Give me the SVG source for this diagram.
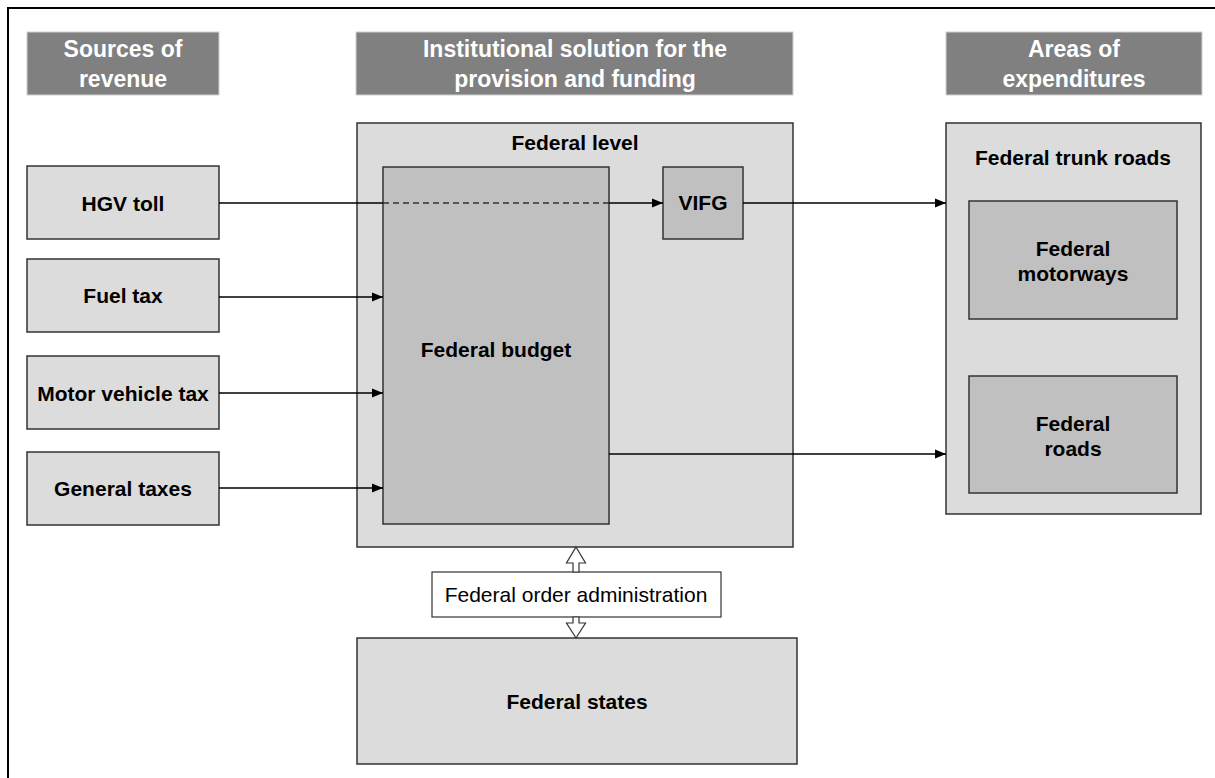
<svg xmlns="http://www.w3.org/2000/svg" width="1215" height="778" viewBox="0 0 1215 778">
<defs>
<style>
.hdr{fill:#808080;stroke:#d0d0d0;stroke-width:1}
.hdrt{font-family:"Liberation Sans",Arial,sans-serif;font-weight:bold;font-size:23px;fill:#ffffff;text-anchor:middle}
.lt{fill:#dcdcdc;stroke:#333333;stroke-width:1.5}
.md{fill:#c0c0c0;stroke:#333333;stroke-width:1.5}
.lbl{font-family:"Liberation Sans",Arial,sans-serif;font-weight:bold;font-size:21px;fill:#000000;text-anchor:middle}
.reg{font-family:"Liberation Sans",Arial,sans-serif;font-size:21px;fill:#000000;text-anchor:middle}
.con{stroke:#000000;stroke-width:1.5;fill:none}
.dash{stroke:#333333;stroke-width:1.5;fill:none;stroke-dasharray:6,4}
.harrow{fill:#ffffff;stroke:#333333;stroke-width:1.2}
</style>
<marker id="ah" markerWidth="12" markerHeight="10" refX="11" refY="5" orient="auto" markerUnits="userSpaceOnUse">
<path d="M0,0.5 L11,5 L0,9.5 Z" fill="#000000"/>
</marker>
</defs>
<rect width="1215" height="778" fill="#ffffff"/>
<path d="M8,778 V8 H1215" fill="none" stroke="#000000" stroke-width="2"/>

<g id="header-sources">
<rect class="hdr" x="27" y="32" width="192" height="63"/>
<text class="hdrt" x="123" y="57">Sources of</text>
<text class="hdrt" x="123" y="87">revenue</text>
</g>
<g id="header-institutional">
<rect class="hdr" x="356" y="32" width="437" height="63"/>
<text class="hdrt" x="575" y="57">Institutional solution for the</text>
<text class="hdrt" x="575" y="87">provision and funding</text>
</g>
<g id="header-areas">
<rect class="hdr" x="946" y="32" width="256" height="63"/>
<text class="hdrt" x="1074" y="57">Areas of</text>
<text class="hdrt" x="1074" y="87">expenditures</text>
</g>

<g id="hgv-toll">
<rect class="lt" x="27" y="166" width="192" height="73"/>
<text class="lbl" x="123" y="211">HGV toll</text>
</g>
<g id="fuel-tax">
<rect class="lt" x="27" y="259" width="192" height="73"/>
<text class="lbl" x="123" y="303">Fuel tax</text>
</g>
<g id="motor-vehicle-tax">
<rect class="lt" x="27" y="356" width="192" height="73"/>
<text class="lbl" x="123" y="401">Motor vehicle tax</text>
</g>
<g id="general-taxes">
<rect class="lt" x="27" y="452" width="192" height="73"/>
<text class="lbl" x="123" y="496">General taxes</text>
</g>

<g id="federal-level">
<rect class="lt" x="357" y="123" width="436" height="424"/>
<text class="lbl" x="575" y="150">Federal level</text>
</g>
<g id="federal-budget">
<rect class="md" x="383" y="167" width="226" height="357"/>
<text class="lbl" x="496" y="357">Federal budget</text>
</g>
<g id="vifg">
<rect class="md" x="663" y="167" width="80" height="72"/>
<text class="lbl" x="703" y="210">VIFG</text>
</g>

<g id="federal-trunk-roads">
<rect class="lt" x="946" y="123" width="255" height="391"/>
<text class="lbl" x="1073" y="165">Federal trunk roads</text>
</g>
<g id="federal-motorways">
<rect class="md" x="969" y="201" width="208" height="118"/>
<text class="lbl" x="1073" y="256">Federal</text>
<text class="lbl" x="1073" y="281">motorways</text>
</g>
<g id="federal-roads">
<rect class="md" x="969" y="376" width="208" height="117"/>
<text class="lbl" x="1073" y="431">Federal</text>
<text class="lbl" x="1073" y="456">roads</text>
</g>

<g id="federal-order-administration">
<rect x="432" y="572" width="289" height="45" fill="#ffffff" stroke="#333333" stroke-width="1.2"/>
<text class="reg" x="576" y="602">Federal order administration</text>
</g>
<g id="federal-states">
<rect class="lt" x="357" y="638" width="440" height="126"/>
<text class="lbl" x="577" y="709">Federal states</text>
</g>

<g id="connectors">
<line class="con" x1="219" y1="203" x2="383" y2="203"/>
<line class="dash" x1="383" y1="203" x2="609" y2="203"/>
<line class="con" x1="609" y1="203" x2="663" y2="203" marker-end="url(#ah)"/>
<line class="con" x1="743" y1="203" x2="946" y2="203" marker-end="url(#ah)"/>
<line class="con" x1="219" y1="297" x2="383" y2="297" marker-end="url(#ah)"/>
<line class="con" x1="219" y1="393" x2="383" y2="393" marker-end="url(#ah)"/>
<line class="con" x1="219" y1="488" x2="383" y2="488" marker-end="url(#ah)"/>
<line class="con" x1="609" y1="454" x2="946" y2="454" marker-end="url(#ah)"/>
<polygon class="harrow" points="576,547 585.5,563 579,563 579,572 573,572 573,563 566.5,563"/>
<polygon class="harrow" points="576,638 585.5,623 579,623 579,617 573,617 573,623 566.5,623"/>
</g>
</svg>
